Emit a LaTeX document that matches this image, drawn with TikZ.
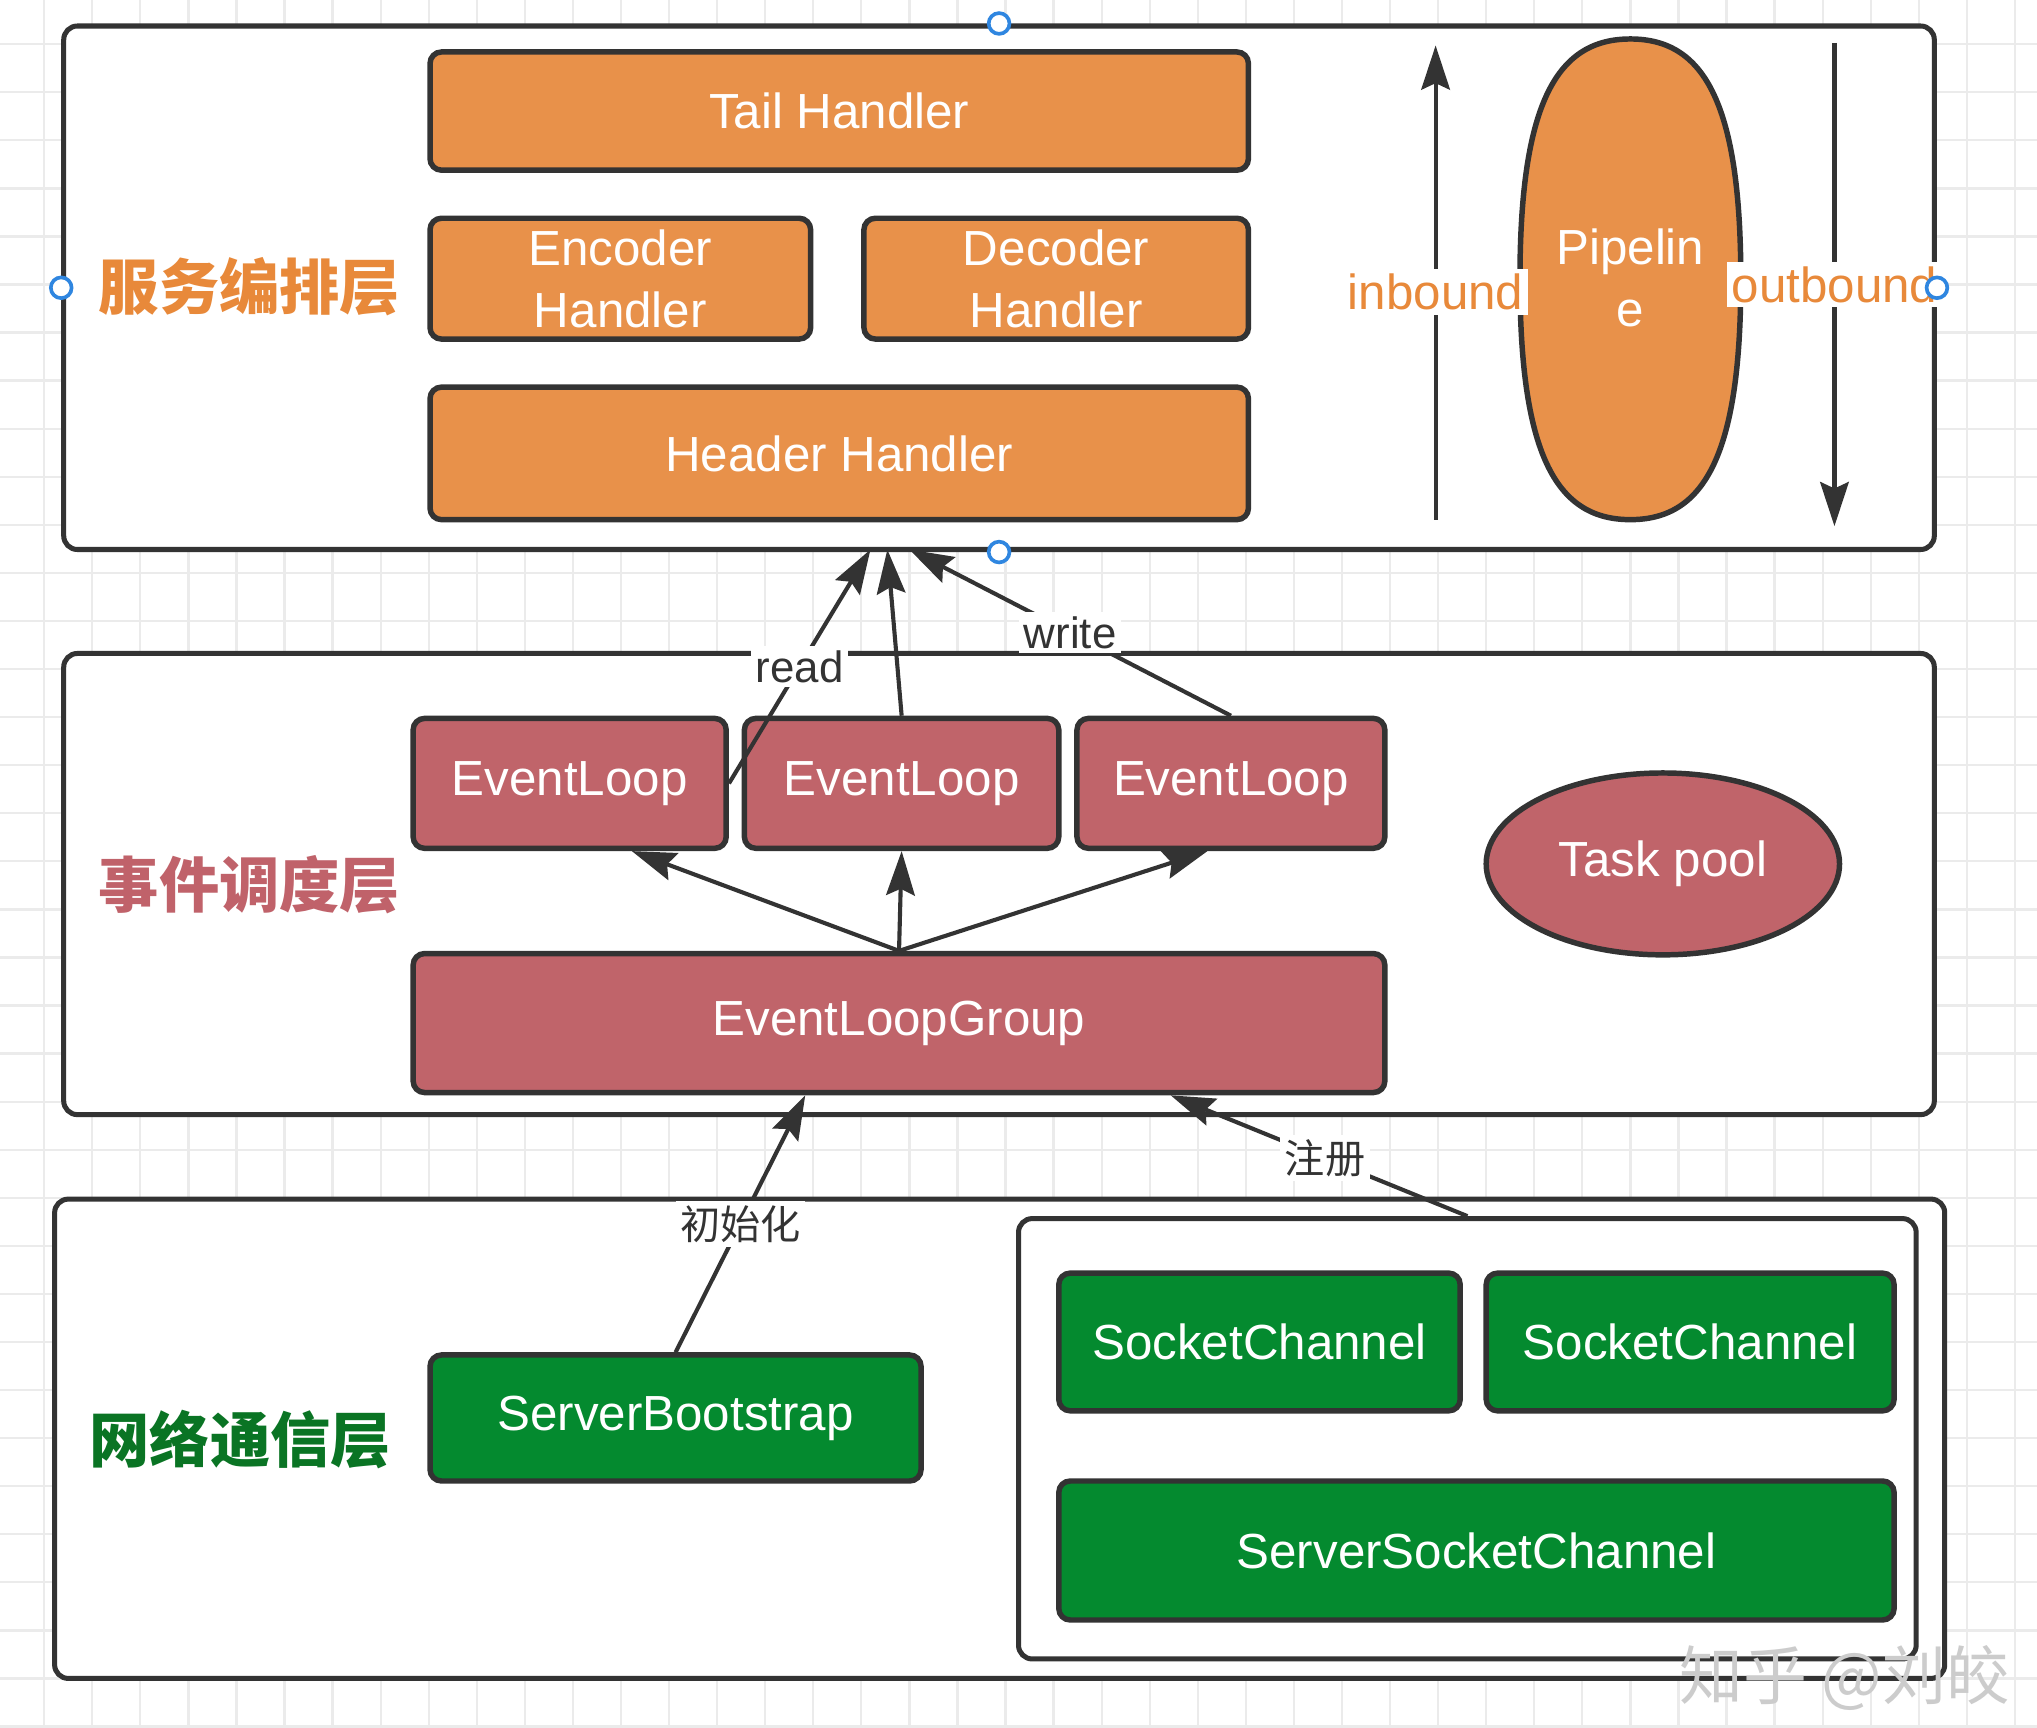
\documentclass[tikz,border=0pt]{standalone}
\usepackage{fontspec}
\setmainfont{Liberation Sans}
\newfontfamily\cjk{Noto Sans CJK SC}
\usetikzlibrary{arrows.meta,calc,shapes.geometric}
\definecolor{hdlfill}{HTML}{E8914A}
\definecolor{elfill}{HTML}{C0646A}
\definecolor{netfill}{HTML}{048A2F}
\definecolor{edge}{HTML}{333333}
\definecolor{gridc}{HTML}{EBEBEB}
\definecolor{handle}{HTML}{2F86E0}
\definecolor{orangetxt}{HTML}{E8893A}
\definecolor{redtxt}{HTML}{C0626A}
\definecolor{greentxt}{HTML}{0A7424}
\begin{document}
\begin{tikzpicture}[scale=0.1,
  box/.style={draw=edge, line width=1.2pt, rounded corners=2.5pt, inner sep=0pt, text=white, align=center, font=\fontsize{10.8}{13.7}\selectfont},
  hdl/.style={box, fill=hdlfill},
  loop/.style={box, fill=elfill},
  net/.style={box, fill=netfill},
  layer/.style={draw=edge, line width=1.1pt, rounded corners=3pt, fill=white, inner sep=0pt},
  tag/.style={font=\cjk\bfseries\fontsize{13.2}{15}\selectfont},
  flow/.style={draw=edge, line width=0.9pt, -{Stealth[length=3.4mm,width=2.2mm,inset=0.5mm]}},
  lbl/.style={fill=white, text=edge, inner sep=1pt, font=\fontsize{9.6}{11}\selectfont},
  clbl/.style={lbl, font=\cjk\fontsize{8.8}{10}\selectfont},
  dirlbl/.style={fill=white, text=orangetxt, inner sep=1pt, font=\fontsize{10.8}{13}\selectfont},
  hnd/.style={circle, draw=handle, fill=white, line width=0.8pt, minimum size=1.6mm, inner sep=0pt}]
\useasboundingbox (0,0) rectangle (156.8,-133);
\fill[white] (0,0) rectangle (156.8,-133);
% grid
\foreach \g in {0,...,41} \draw[gridc, line width=0.5pt] (3.4+3.7*\g,0) -- (3.4+3.7*\g,-133);
\foreach \g in {0,...,35} \draw[gridc, line width=0.5pt] (0,-3.4-3.7*\g) -- (156.8,-3.4-3.7*\g);
% layers
\node[layer, minimum width=14.4cm, minimum height=4.03cm] (top) at (76.9,-22.15) {};
\node[layer, minimum width=14.4cm, minimum height=3.55cm] (mid) at (76.9,-68.05) {};
\node[layer, minimum width=14.55cm, minimum height=3.69cm] (bot) at (76.95,-110.75) {};
\node[layer, minimum width=6.91cm, minimum height=3.39cm] (chan) at (112.95,-110.75) {};
\node[tag, text=orangetxt] (svc) at (19.2,-22.1) {服务编排层};
\node[tag, text=redtxt] (evt) at (19.2,-68.1) {事件调度层};
\node[tag, text=greentxt] (nio) at (18.5,-110.8) {网络通信层};
% handlers
\node[hdl, minimum width=6.3cm, minimum height=0.91cm] (tail) at (64.6,-8.55) {Tail Handler};
\node[hdl, minimum width=2.93cm, minimum height=0.93cm] (enc) at (47.75,-21.45) {Encoder\\Handler};
\node[hdl, minimum width=2.96cm, minimum height=0.93cm] (dec) at (81.3,-21.45) {Decoder\\Handler};
\node[hdl, minimum width=6.3cm, minimum height=1.02cm] (head) at (64.6,-34.9) {Header Handler};
\draw[edge, line width=1.2pt, fill=hdlfill] (125.5,-3) .. controls (131,-3) and (134,-7.6) .. (134,-21.5)
  .. controls (134,-35.4) and (131,-40) .. (125.5,-40) .. controls (120,-40) and (117,-35.4) .. (117,-21.5)
  .. controls (117,-7.6) and (120,-3) .. cycle;
\node[text=white, align=center, font=\fontsize{10.8}{13.7}\selectfont] (pipe) at (125.5,-21.4) {Pipelin\\e};
\coordinate (inlo) at (110.5,-40);
\coordinate (inhi) at (110.5,-3.5);
\coordinate (outhi) at (141.2,-3.3);
\coordinate (outlo) at (141.2,-40.5);
\draw[flow] (inlo) -- node[dirlbl, pos=0.48] {inbound} (inhi);
\draw[flow] (outhi) -- node[dirlbl, pos=0.5] {outbound} (outlo);
% event loops
\node[loop, minimum width=2.41cm, minimum height=1cm] (el1) at (43.85,-60.3) {EventLoop};
\node[loop, minimum width=2.42cm, minimum height=1cm] (el2) at (69.4,-60.3) {EventLoop};
\node[loop, minimum width=2.37cm, minimum height=1cm] (el3) at (94.75,-60.3) {EventLoop};
\node[loop, ellipse, sharp corners, minimum width=2.72cm, minimum height=1.4cm] (task) at (128,-66.5) {Task pool};
\node[loop, minimum width=7.48cm, minimum height=1.07cm] (elg) at (69.2,-78.75) {EventLoopGroup};
\draw[flow] (elg.north) -- ($(el1.south)!0.39!(el1.south east)$);
\draw[flow] (elg.north) -- (el2.south);
\draw[flow] (elg.north) -- ($(el3.south)!0.15!(el3.south west)$);
\coordinate (rdin) at (67,-42.3);
\coordinate (mdin) at (68.3,-42.3);
\coordinate (wrin) at (70,-42.3);
\draw[flow] (el1.east) -- node[lbl] {read} (rdin);
\draw[flow] (el2.north) -- (mdin);
\draw[flow] (el3.north) -- node[lbl] {write} (wrin);
% channels
\node[net, minimum width=3.78cm, minimum height=0.97cm] (boot) at (52,-109.15) {ServerBootstrap};
\node[net, minimum width=3.09cm, minimum height=1.06cm] (sc1) at (96.95,-103.3) {SocketChannel};
\node[net, minimum width=3.14cm, minimum height=1.06cm] (sc2) at (130.1,-103.3) {SocketChannel};
\node[net, minimum width=6.43cm, minimum height=1.07cm] (ssc) at (113.65,-119.35) {ServerSocketChannel};
\draw[flow] (boot.north) -- node[clbl] {初始化} ($(elg.south west)!0.404!(elg.south east)$);
\draw[flow] (chan.north) -- node[clbl, pos=0.48] {注册} ($(elg.south west)!0.778!(elg.south east)$);
\node[text=gray!40, font=\cjk\fontsize{14}{16}\selectfont] (mark) at (142,-129.2) {知乎 @刘皎};
\foreach \a in {north,south,east,west} \node[hnd] (hd\a) at (top.\a) {};
\end{tikzpicture}
\end{document}
